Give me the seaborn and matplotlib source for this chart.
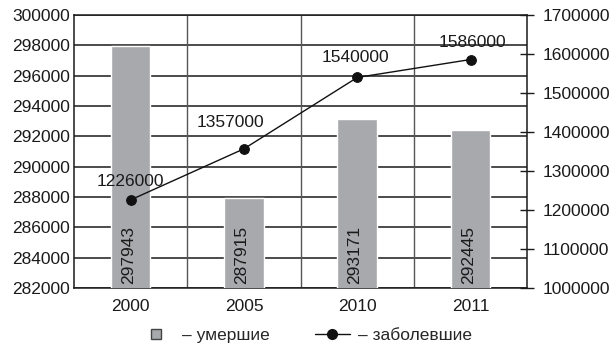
import matplotlib
matplotlib.use("Agg")
import matplotlib.pyplot as plt
from matplotlib.lines import Line2D
import seaborn as sns
import pandas as pd

years = ["2000", "2005", "2010", "2011"]
deaths = [297943, 287915, 293171, 292445]
cases = [1226000, 1357000, 1540000, 1586000]

left_ticks = list(range(282000, 300001, 2000))
right_ticks = list(range(1000000, 1700001, 100000))

sns.set_style("white")
plt.rcParams["font.family"] = ["Liberation Sans", "DejaVu Sans"]

df = pd.DataFrame({"year": years, "deaths": deaths, "cases": cases})

BAR = "#a8a9ac"
fig = plt.figure(figsize=(6.11, 3.5), dpi=100)
ax = fig.add_axes([0.121, 0.177, 0.742, 0.780])

sns.barplot(data=df, x="year", y="deaths", ax=ax, color=BAR, width=0.35,
            saturation=1, zorder=3)
ax.set_ylim(left_ticks[0], left_ticks[-1])
ax.set_yticks(left_ticks)
ax.set_yticklabels([str(v) for v in left_ticks])
ax.set_xlim(-0.5, len(years) - 0.5)
for y in left_ticks:
    ax.axhline(y, color="#1a1a1a", lw=1.1, zorder=1)
for xb in [0.5, 1.5, 2.5]:
    ax.axvline(xb, color="#555555", lw=1.0, zorder=1)
ax.set_xlabel("")
ax.set_ylabel("")
ax.tick_params(axis="y", length=0, pad=3, labelsize=12.5, colors="#1a1a1a")
ax.tick_params(axis="x", length=0, pad=8, labelsize=12.5, colors="#1a1a1a")
for s in ax.spines.values():
    s.set_color("#1a1a1a")
    s.set_linewidth(1.1)

# values written vertically inside the bars
for i, v in enumerate(deaths):
    ax.text(i - 0.02, left_ticks[0] + 250, str(v), rotation=90, ha="center",
            va="bottom", fontsize=12.5, color="#1a1a1a", zorder=4)

ax2 = ax.twinx()
sns.pointplot(data=df, x="year", y="cases", ax=ax2, color="#111111",
              markers="o", linestyles="-", markersize=7, linewidth=1.0,
              errorbar=None)
ax2.set_ylim(right_ticks[0], right_ticks[-1])
ax2.set_yticks(right_ticks)
ax2.set_yticklabels([str(v) for v in right_ticks])
ax2.set_xlim(-0.5, len(years) - 0.5)
ax2.set_ylabel("")
ax2.set_xlabel("")
ax2.tick_params(axis="y", direction="inout", length=10, width=1.0, pad=6,
                labelsize=12.5, colors="#1a1a1a")
for s in ax2.spines.values():
    s.set_visible(False)

offsets = [(0, 18), (-14, 26), (-2, 20), (2, 17)]
for i, (v, off) in enumerate(zip(cases, offsets)):
    ax2.annotate(str(v), (i, v), xytext=off, textcoords="offset pixels",
                 ha="center", va="center", fontsize=12.5, color="#1a1a1a")

handles = [
    Line2D([], [], marker="s", linestyle="none", markersize=7,
           markerfacecolor=BAR, markeredgecolor="#444444", markeredgewidth=1.0),
    Line2D([], [], marker="o", color="#111111", lw=1.0, markersize=7),
]
fig.legend(handles, ["– умершие", "– заболевшие"], loc="lower center",
           bbox_to_anchor=(0.5, -0.025), ncol=2, frameon=False, fontsize=12.5,
           handlelength=2.0, handletextpad=0.5, columnspacing=2.6)

fig.savefig("out.png", dpi=100)
